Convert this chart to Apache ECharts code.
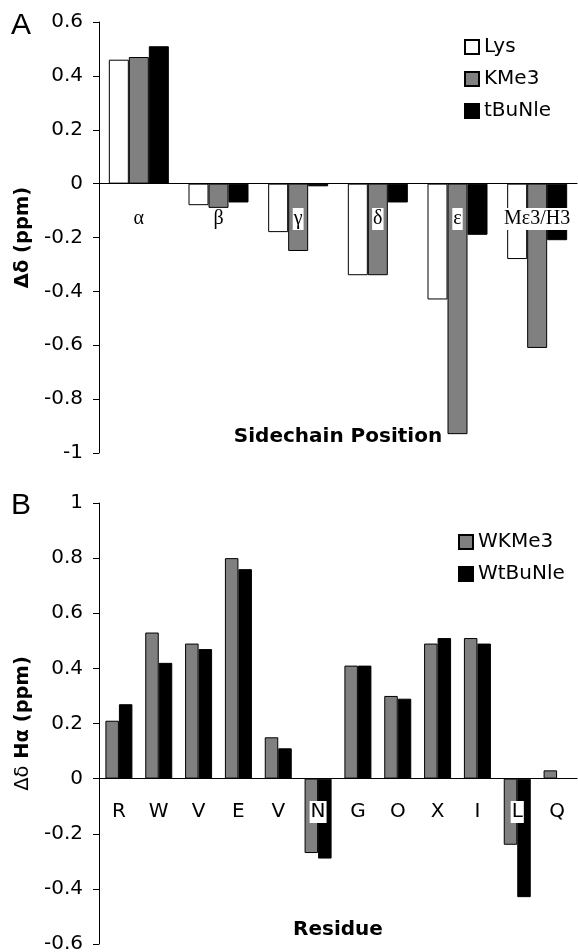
<!DOCTYPE html>
<html lang="en">
<head>
    <meta charset="UTF-8">
    <title>Chemical shift differences</title>
    <script src="https://cdn.jsdelivr.net/npm/echarts@6/dist/echarts.min.js"></script>
    <style>
        html, body { margin: 0; padding: 0; background: #fff; }
        #chart { width: 578px; height: 952px; }
    </style>
</head>
<body>
    <div id="chart"></div>
<script>
    // panel A: sidechain positions
    var positions = ['α', 'β', 'γ', 'δ', 'ε', 'Mε3/H3'];
    var lys = [0.46, -0.08, -0.18, -0.34, -0.43, -0.28];
    var kme3 = [0.47, -0.09, -0.25, -0.34, -0.93, -0.61];
    var tbunle = [0.51, -0.07, -0.01, -0.07, -0.19, -0.21];

    // panel B: residues
    var residues = ['R', 'W', 'V', 'E', 'V', 'N', 'G', 'O', 'X', 'I', 'L', 'Q'];
    var wkme3 = [0.21, 0.53, 0.49, 0.80, 0.15, -0.27, 0.41, 0.30, 0.49, 0.51, -0.24, 0.03];
    var wtbunle = [0.27, 0.42, 0.47, 0.76, 0.11, -0.29, 0.41, 0.29, 0.51, 0.49, -0.43, null];

    var sans = 'DejaVu Sans';
    var chart = echarts.init(document.getElementById('chart'));

    function yAx(grid, min, max, name) {
        return {
            type: 'value', gridIndex: grid, min: min, max: max, interval: 0.2,
            axisLine: { show: true, lineStyle: { color: '#000', width: 1 } },
            axisTick: { show: true, length: 6, lineStyle: { color: '#000' } },
            splitLine: { show: false },
            axisLabel: { color: '#000', fontSize: 20, fontFamily: sans, margin: 16 },
            name: name, nameLocation: 'middle', nameRotate: 90, nameGap: 62,
            nameTextStyle: {
                color: '#000', fontSize: 19.5, fontFamily: sans, fontWeight: 'bold',
                rich: {
                    n: { fontSize: 19.5, fontFamily: sans, fontWeight: 'normal', color: '#000' },
                    b: { fontSize: 19.5, fontFamily: sans, fontWeight: 'bold', color: '#000' }
                }
            }
        };
    }

    // labels sit at the grid bottom in v6, so pull them up to just under the zero line
    function xAx(grid, cats, name, labelMargin, gap, font) {
        return {
            type: 'category', gridIndex: grid, data: cats, z: 5,
            axisLine: { onZero: true, lineStyle: { color: '#000', width: 1 } },
            axisTick: { length: 5, lineStyle: { color: '#000' } },
            axisLabel: {
                interval: 0, color: '#000', fontSize: 20, fontFamily: font, margin: labelMargin,
                backgroundColor: '#fff', padding: [1, 1]
            },
            name: name, nameLocation: 'middle', nameGap: gap,
            nameTextStyle: { color: '#000', fontSize: 20, fontFamily: sans, fontWeight: 'bold' }
        };
    }

    function bar(name, data, color, xi, w) {
        return {
            name: name, type: 'bar', data: data, xAxisIndex: xi, yAxisIndex: xi,
            barWidth: w, barGap: '0%',
            itemStyle: { color: color, borderColor: '#000', borderWidth: 1 }
        };
    }

    var legendText = { color: '#000', fontSize: 20, fontFamily: sans };
    var panelText = { fontSize: 30, fontWeight: 'normal', fontFamily: 'Liberation Sans', color: '#000' };

    var option = {
        animation: false,
        backgroundColor: '#fff',
        title: [
            { text: 'A', left: 11, top: 11, padding: 0, textStyle: panelText },
            { text: 'B', left: 11, top: 491, padding: 0, textStyle: panelText }
        ],
        legend: [
            { data: ['Lys', 'KMe3', 'tBuNle'], orient: 'vertical', left: 464, top: 37, padding: 0,
              itemWidth: 14, itemHeight: 14, itemGap: 12, icon: 'rect', textStyle: legendText },
            { data: ['WKMe3', 'WtBuNle'], orient: 'vertical', left: 458, top: 532, padding: 0,
              itemWidth: 14, itemHeight: 14, itemGap: 12, icon: 'rect', textStyle: legendText }
        ],
        grid: [
            { left: 99, right: 1, top: 22, height: 431, outerBoundsMode: 'none', containLabel: false },
            { left: 99, right: 1, top: 503, height: 441, outerBoundsMode: 'none', containLabel: false }
        ],
        xAxis: [
            xAx(0, positions, 'Sidechain Position', -245, -26, 'Liberation Serif'),
            xAx(1, residues, 'Residue', -143, -24, sans)
        ],
        yAxis: [
            yAx(0, -1, 0.6, '{b|Δδ (ppm)}'),
            yAx(1, -0.6, 1, '{n|Δδ} {b|Hα (ppm)}')
        ],
        series: [
            bar('Lys', lys, '#ffffff', 0, 20),
            bar('KMe3', kme3, '#808080', 0, 20),
            bar('tBuNle', tbunle, '#000000', 0, 20),
            bar('WKMe3', wkme3, '#808080', 1, 13.5),
            bar('WtBuNle', wtbunle, '#000000', 1, 13.5)
        ]
    };
    chart.setOption(option);
</script>
</body>
</html>
